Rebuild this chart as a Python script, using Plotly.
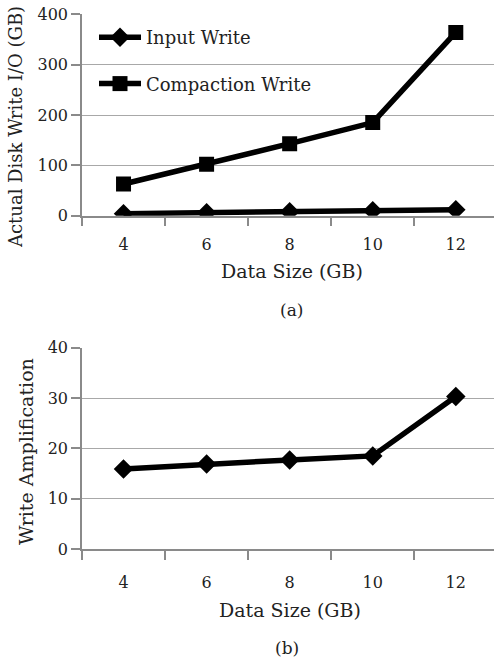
import plotly.graph_objects as go

# ---- data ----
data_size = ["4", "6", "8", "10", "12"]
input_write = [4, 6, 8, 10, 12]
compaction_write = [63, 102, 143, 185, 364]
write_amp = [15.9, 16.9, 17.7, 18.5, 30.3]

W, H = 494, 663
FONT = "DejaVu Serif"
TXT = "#222222"
AX = "#8a8a8a"
GRID = "#a8a8a8"

def py(px):
    return 1 - px / H

fig = go.Figure()
fig.add_trace(go.Scatter(
    x=data_size, y=input_write, name="Input Write", mode="lines+markers",
    line=dict(color="black", width=5.5),
    marker=dict(symbol="diamond", size=15, color="black"),
    xaxis="x", yaxis="y", legendgroup="g1"))
fig.add_trace(go.Scatter(
    x=data_size, y=compaction_write, name="Compaction Write", mode="lines+markers",
    line=dict(color="black", width=5.5),
    marker=dict(symbol="square", size=15, color="black"),
    xaxis="x", yaxis="y", legendgroup="g2"))
fig.add_trace(go.Scatter(
    x=data_size, y=write_amp, name="Write Amplification", mode="lines+markers",
    line=dict(color="black", width=5.5),
    marker=dict(symbol="diamond", size=15, color="black"),
    xaxis="x2", yaxis="y2", showlegend=False))

xdom = [82 / W, 1.0]
common_x = dict(
    type="category", range=[-0.5, 4.46], tickson="boundaries",
    ticks="outside", ticklen=9, tickcolor=AX, tickwidth=1.5,
    showline=True, linecolor=AX, linewidth=1.5, showgrid=False, automargin=False,
    tickfont=dict(family=FONT, size=16, color=TXT),
)
common_y = dict(
    ticks="outside", ticklen=9, tickcolor=AX, tickwidth=1.5,
    showline=True, linecolor=AX, linewidth=1.5, automargin=False,
    showgrid=True, gridcolor=GRID, gridwidth=1, zeroline=False,
    tickfont=dict(family=FONT, size=16, color=TXT),
)

fig.update_layout(
    width=W, height=H, margin=dict(l=0, r=0, t=0, b=0, autoexpand=False),
    paper_bgcolor="white", plot_bgcolor="white",
    font=dict(family=FONT, color=TXT),
    xaxis=dict(domain=xdom, anchor="y", ticklabelstandoff=13, **common_x),
    yaxis=dict(domain=[py(215.7), py(14.3)], anchor="x", range=[0, 400], dtick=100, **common_y),
    xaxis2=dict(domain=xdom, anchor="y2", ticklabelstandoff=18, **common_x),
    yaxis2=dict(domain=[py(549), py(347.7)], anchor="x2", range=[0, 40], dtick=10, **common_y),
    showlegend=True,
    legend=dict(x=94 / W, y=py(19), xanchor="left", yanchor="top",
                bgcolor="rgba(0,0,0,0)", font=dict(family=FONT, size=18, color=TXT),
                traceorder="grouped", tracegroupgap=20, itemwidth=42),
    annotations=[
        dict(text="Data Size (GB)", x=292 / W, y=py(271), xref="paper", yref="paper",
             showarrow=False, font=dict(size=19), xanchor="center", yanchor="middle"),
        dict(text="(a)", x=291 / W, y=py(310), xref="paper", yref="paper",
             showarrow=False, font=dict(size=17), xanchor="center", yanchor="middle"),
        dict(text="Data Size (GB)", x=290 / W, y=py(610), xref="paper", yref="paper",
             showarrow=False, font=dict(size=19), xanchor="center", yanchor="middle"),
        dict(text="(b)", x=287 / W, y=py(648), xref="paper", yref="paper",
             showarrow=False, font=dict(size=17), xanchor="center", yanchor="middle"),
        dict(text="Actual Disk Write I/O (GB)", x=16 / W, y=py(127), xref="paper", yref="paper",
             showarrow=False, font=dict(size=18), textangle=-90, xanchor="center", yanchor="middle"),
        dict(text="Write Amplification", x=26 / W, y=py(452), xref="paper", yref="paper",
             showarrow=False, font=dict(size=19), textangle=-90, xanchor="center", yanchor="middle"),
    ],
)

fig.write_html("out.html", config={"displayModeBar": False},
               post_script="document.body.style.margin='0';")
